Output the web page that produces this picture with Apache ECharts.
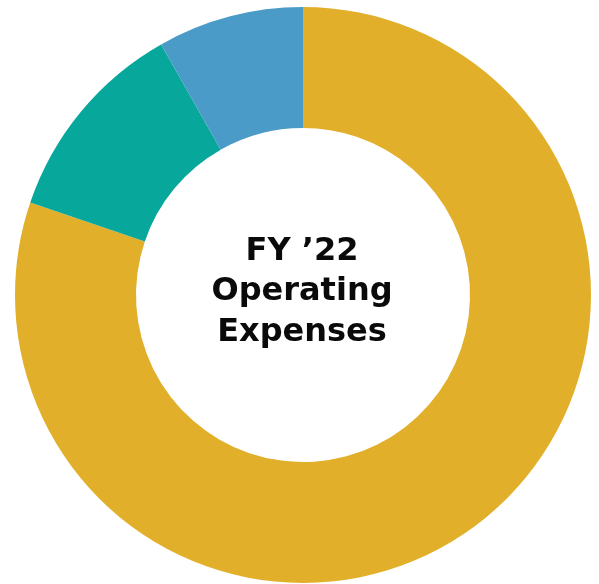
<!DOCTYPE html>
<html>
<head>
<meta charset="utf-8">
<script src="https://cdn.jsdelivr.net/npm/echarts@6/dist/echarts.min.js"></script>
<style>
  html, body { margin: 0; padding: 0; background: #fff; }
  #chart { width: 599px; height: 584px; }
</style>
</head>
<body>
<div id="chart"></div>
<script>
// slices, clockwise from 12 o'clock
const categories = ['Gold', 'Teal', 'Blue'];
const values = [80.2, 11.6, 8.2];
const colors = ['#E1AF2A', '#07A79B', '#4A9BC8'];
const centerText = "FY \u201922\nOperating\nExpenses";

const chart = echarts.init(document.getElementById('chart'));
const option = {
    animation: false,
    graphic: [{
        type: 'text',
        x: 302,
        y: 292,
        style: {
            text: centerText,
            x: 0,
            y: 0,
            textAlign: 'center',
            textVerticalAlign: 'middle',
            fontFamily: 'DejaVu Sans',
            fontWeight: 'bold',
            fontSize: 32,
            lineHeight: 40.5,
            fill: '#0a0a0a'
        }
    }],
    series: [{
        type: 'pie',
        center: [303, 295],
        radius: [167, 288],
        startAngle: 90,
        clockwise: true,
        silent: true,
        label: { show: false },
        labelLine: { show: false },
        data: categories.map((name, i) => ({
            name: name,
            value: values[i],
            itemStyle: { color: colors[i] }
        }))
    }]
};
chart.setOption(option);
</script>
</body>
</html>
